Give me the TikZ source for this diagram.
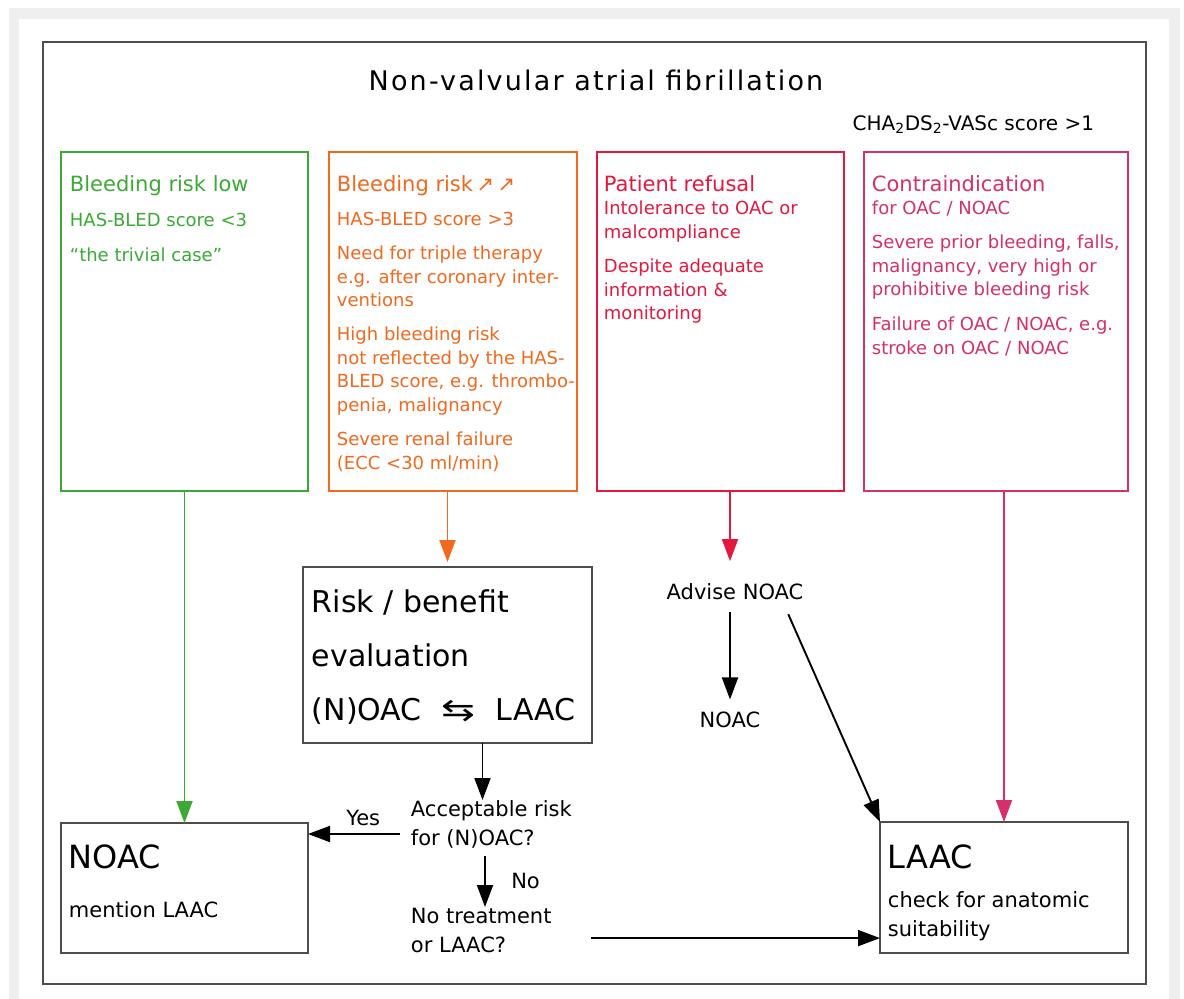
\documentclass[tikz,border=0pt]{standalone}
\usepackage{fontspec}
\setmainfont{DejaVu Sans}
\usetikzlibrary{positioning,arrows.meta}

\definecolor{lowgreen}{HTML}{3BAA34}
\definecolor{highorange}{HTML}{F0691E}
\definecolor{refusalred}{HTML}{E4183F}
\definecolor{contrapink}{HTML}{D5306B}
\definecolor{boxgray}{HTML}{4D4D4D}
\definecolor{pagegray}{HTML}{EFEFEF}

\newcommand{\headsize}{\fontsize{21}{25}\selectfont}
\newcommand{\bodysize}{\fontsize{18}{23.5}\selectfont}
\newcommand{\flowsize}{\fontsize{21}{29}\selectfont}
\newcommand{\bigsize}{\fontsize{32}{38}\selectfont}

\tikzstyle{criterion} = [rectangle,
                        draw,
                        line width=1.8pt,
                        minimum height=339pt,
                        anchor=north west,
                        inner sep=0pt,
                        outer sep=0pt]
\tikzstyle{outcome} = [rectangle,
                      draw=boxgray,
                      line width=1.6pt,
                      anchor=north west,
                      inner sep=0pt,
                      outer sep=0pt]
\tikzstyle{heading} = [anchor=base west, inner sep=0pt, font=\headsize]
\tikzstyle{detail} = [anchor=north west, inner sep=0pt, align=left, font=\bodysize]
\tikzstyle{flowtext} = [inner sep=0pt, align=left, font=\flowsize]
\tikzstyle{chart} = [x=1pt,
                    y=-1pt,
                    >={Triangle[length=22pt,width=16pt]},
                    line width=1.9pt]

\begin{document}
\begin{tikzpicture}[chart]
    \useasboundingbox (0,0) rectangle (1184,999);
    % page and frame
    \fill[pagegray] (9,8) rectangle (1180,999);
    \fill[white] (19,19) rectangle (1169,999);
    \draw[boxgray, line width=1.5pt] (43,42) rectangle (1146,984);

    \node (title) [anchor=base, inner sep=0pt,
      font=\fontsize{27}{32}\selectfont\addfontfeature{LetterSpace=8}]
      at (596,90) {Non-valvular atrial fibrillation};
    \node (score) [anchor=base east, inner sep=0pt, font=\fontsize{20}{24}\selectfont]
      at (1095,130) {CHA\textsubscript{2}DS\textsubscript{2}-VASc score >1};

    % the four criteria
    \node (low) [criterion, draw=lowgreen, minimum width=247pt] at (61,152) {};
    \node (high) [criterion, draw=highorange, minimum width=248pt,
      right=21pt of low.north east, anchor=north west] {};
    \node (refuse) [criterion, draw=refusalred, minimum width=247pt,
      right=20pt of high.north east, anchor=north west] {};
    \node (contra) [criterion, draw=contrapink, minimum width=264pt,
      right=20pt of refuse.north east, anchor=north west] {};

    \node (lowhead) [heading, lowgreen] at ([shift={(8,39)}]low.north west) {Bleeding risk low};
    \node (lowtext) [detail, lowgreen] at ([shift={(8,60)}]low.north west)
      {\vphantom{l}HAS-BLED score <3\\[11.5pt]“the trivial case”};

    \node (highhead) [heading, highorange] at ([shift={(7,39)}]high.north west)
      {Bleeding risk\,↗\,↗};
    \node (hightext) [detail, highorange] at ([shift={(7,59)}]high.north west)
      {\vphantom{l}HAS-BLED score >3\\[10.5pt]
       Need for triple therapy\\e.g. after coronary inter-\\ventions\\[10.5pt]
       High bleeding risk\\not reflected by the HAS-\\BLED score, e.g. thrombo-\\penia, malignancy\\[11pt]
       Severe renal failure\\(ECC <30 ml/min)};

    \node (refusehead) [heading, refusalred] at ([shift={(6,39)}]refuse.north west) {Patient refusal};
    \node (refusetext) [detail, refusalred] at ([shift={(6,48)}]refuse.north west)
      {\vphantom{l}Intolerance to OAC or\\malcompliance\\[11pt]
       Despite adequate\\information \&\\monitoring};

    \node (contrahead) [heading, contrapink] at ([shift={(7,39)}]contra.north west) {Contraindication};
    \node (contratext) [detail, contrapink] at ([shift={(7,48)}]contra.north west)
      {\vphantom{l}for OAC / NOAC\\[10.5pt]
       Severe prior bleeding, falls,\\malignancy, very high or\\prohibitive bleeding risk\\[11.5pt]
       Failure of OAC / NOAC, e.g.\\stroke on OAC / NOAC};

    % evaluation and outcomes
    \node (risk) [outcome, minimum width=289pt, minimum height=176pt] at (303,567) {};
    \node (risktext) [anchor=north west, inner sep=0pt, align=left, font=\fontsize{30}{54}\selectfont]
      at ([shift={(8,22)}]risk.north west)
      {\vphantom{l}Risk / benefit\\evaluation\\(N)OAC\hspace{20pt}\scalebox{1.35}[1]{⇆}\hspace{20pt}LAAC};

    \node (noac) [outcome, minimum width=247pt, minimum height=130pt] at (61,823) {};
    \node (noachead) [anchor=base west, inner sep=0pt, font=\bigsize]
      at ([shift={(7,45)}]noac.north west) {NOAC};
    \node (noactext) [anchor=base west, inner sep=0pt, font=\flowsize]
      at ([shift={(7,94)}]noac.north west) {mention LAAC};

    \node (laac) [outcome, minimum width=248pt, minimum height=131pt] at (880,822) {};
    \node (laachead) [anchor=base west, inner sep=0pt, font=\bigsize]
      at ([shift={(7,46)}]laac.north west) {LAAC};
    \node (laactext) [anchor=north west, inner sep=0pt, align=left, font=\flowsize]
      at ([shift={(7,69)}]laac.north west) {\vphantom{l}check for anatomic\\suitability};

    \node (advise) [flowtext, anchor=base] at (735,599) {Advise NOAC};
    \node (noacalt) [flowtext, anchor=base] at (730,727) {NOAC};
    \node (accept) [flowtext, anchor=north west] at (410,800) {\vphantom{l}Acceptable risk\\for (N)OAC?};
    \node (notreat) [flowtext, anchor=north west] at (410,907) {\vphantom{l}No treatment\\or LAAC?};

    % connectors
    \path[->]
      (low) edge[lowgreen] (noac)
      (risk.north |- high.south) edge[highorange] ([yshift=5pt]risk.north)
      (noacalt |- refuse.south) edge[refusalred] ([yshift=21pt]noacalt |- advise.north)
      (laac.north |- contra.south) edge[contrapink] (laac.north)
      ([yshift=-12pt]noacalt |- advise.south) edge ([yshift=11pt]noacalt.north)
      ([shift={(-16,14)}]advise.south east) edge (laac.north west)
      ([xshift=35pt]risk.south) edge ([xshift=35pt]risk.south |- accept.north);
    \draw[->] ([shift={(-10,34)}]accept.north west) coordinate (yesfrom)
      -- (noac.east |- yesfrom) node [pos=0.4, above=4pt, font=\flowsize] (yes) {Yes};
    \draw[->] ([shift={(75,6)}]accept.south west)
      -- ([xshift=75pt]accept.south west |- notreat.north)
      node [midway, right=22pt, font=\flowsize] (no) {No};
    \draw[->] ([shift={(39,7.5)}]notreat.east) coordinate (laacfrom)
      -- (laac.west |- laacfrom);
\end{tikzpicture}
\end{document}
